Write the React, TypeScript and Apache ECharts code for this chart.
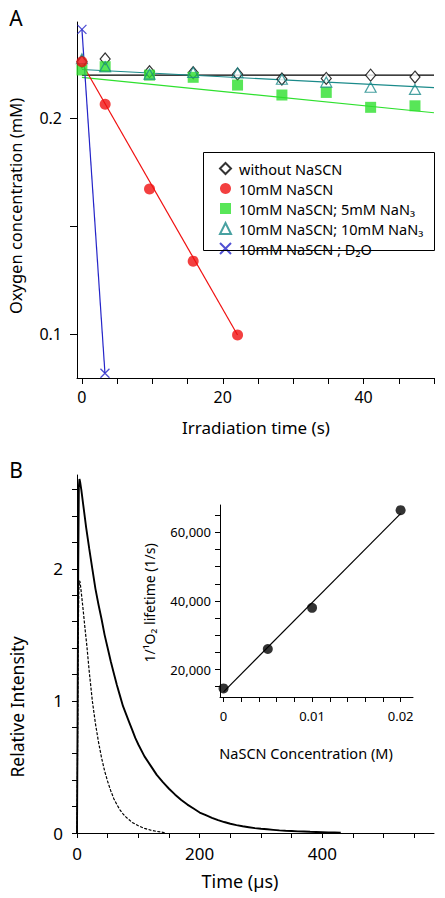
import React, { useEffect, useRef } from "react";
import * as echarts from "echarts";

// ---------- Panel A data ----------
const aTimes = [0, 3.3, 9.6, 15.8, 22.1, 28.4, 34.7, 41.0, 47.3];
const aWithout = [0.2262, 0.2275, 0.2216, 0.2211, 0.2205, 0.2182, 0.2185, 0.2200, 0.2191];
const aRedTimes = [0, 3.3, 9.6, 15.8, 22.1];
const aRed = [0.2262, 0.2065, 0.1673, 0.1339, 0.0997];
const aGreen = [0.2224, 0.2239, 0.2200, 0.2190, 0.2154, 0.2108, 0.2120, 0.2051, 0.2058];
const aTeal = [0.2276, 0.2239, 0.2205, 0.2213, 0.2211, 0.2181, 0.2168, 0.2144, 0.2134];
const aBlueTimes = [0, 3.27];
const aBlue = [0.2412, 0.0820];
// fitted lines (endpoints)
const fitBlack = [[0, 0.2200], [50, 0.2200]];
const fitTeal = [[0, 0.2226], [50, 0.2142]];
const fitGreen = [[0, 0.2190], [50, 0.2026]];
const fitRed = [[0, 0.2255], [22.1, 0.0997]];
const fitBlue = [[0, 0.2412], [3.27, 0.0820]];
const aNames = [
  "without NaSCN",
  "10mM NaSCN",
  "10mM NaSCN; 5mM NaN\u2083",
  "10mM NaSCN; 10mM NaN\u2083",
  "10mM NaSCN ; D\u2082O",
];
const aXTicks = [0, 5, 10, 15, 20, 25, 30, 35, 40, 45, 50];
const aXLabels = [0, 20, 40];
const aYTicks = [0.1, 0.15, 0.2];
const aYLabels = [0.1, 0.2];

// ---------- Panel B data ----------
const bTimeSolid = [0, 1, 2, 3, 4, 5, 7, 10, 15, 20, 25, 30, 35, 40, 45, 50, 55, 60, 65, 70, 75, 80, 85, 90, 95, 100,
  110, 120, 130, 140, 150, 160, 170, 180, 190, 200, 210, 220, 230, 240, 250, 260, 270, 280, 290, 300,
  310, 320, 330, 340, 350, 360, 370, 380, 390, 400, 410, 420, 430];
const bIntSolid = [0, 0.9, 2.0, 2.62, 2.68, 2.66, 2.6, 2.49, 2.31, 2.15, 2.0, 1.85, 1.73, 1.62, 1.5, 1.4, 1.3, 1.21, 1.12, 1.04, 0.96, 0.9, 0.84, 0.78, 0.72, 0.67,
  0.58, 0.51, 0.44, 0.385, 0.335, 0.29, 0.25, 0.215, 0.185, 0.155, 0.135, 0.115, 0.097, 0.083, 0.07, 0.06, 0.051, 0.044, 0.037, 0.032,
  0.028, 0.024, 0.02, 0.017, 0.015, 0.012, 0.011, 0.009, 0.008, 0.007, 0.005, 0.004, 0.003];
const bTimeDash = [0, 1, 2, 3, 4, 5, 7, 10, 13, 16, 20, 25, 30, 35, 40, 45, 50, 55, 60, 65, 70, 75, 80, 85, 90, 100, 110, 120, 130, 140, 145];
const bIntDash = [0, 0.7, 1.5, 1.85, 1.91, 1.9, 1.82, 1.69, 1.55, 1.42, 1.22, 1.0, 0.83, 0.69, 0.57, 0.47, 0.39, 0.32, 0.26, 0.215, 0.175, 0.145, 0.12, 0.1, 0.08, 0.055, 0.035, 0.022, 0.012, 0.005, 0];
const bXTicks = [0, 50, 100, 150, 200, 250, 300, 350, 400, 450, 500, 550];
const bXLabels = [0, 200, 400];
const bYTicks = [0, 0.2, 0.4, 0.6, 0.8, 1, 1.2, 1.4, 1.6, 1.8, 2, 2.2, 2.4, 2.6];
const bYLabels = [0, 1, 2];

// ---------- Inset data ----------
const insetConc = [0, 0.005, 0.01, 0.02];
const insetRate = [14500, 26000, 38000, 66500];
const insetFit = [[0, 13500], [0.02, 65500]];
const insetXTicks = [0, 0.002, 0.004, 0.006, 0.008, 0.01, 0.012, 0.014, 0.016, 0.018, 0.02];
const insetXLabels = [0, 0.01, 0.02];
const insetYTicks = [15000, 20000, 25000, 30000, 35000, 40000, 45000, 50000, 55000, 60000, 65000];
const insetYLabels = [20000, 40000, 60000];

const FONT = "Noto Sans";
const zip = (xs: number[], ys: number[]) => xs.map((x, i) => [x, ys[i]]);

function axisBase(extra: any) {
  return {
    axisLine: { show: true, onZero: false, lineStyle: { color: "#000", width: 1 } },
    splitLine: { show: false },
    ...extra,
  };
}

export default function App() {
  const ref = useRef<HTMLDivElement>(null);
  useEffect(() => {
    if (!ref.current) return;
    const chart = echarts.init(ref.current, null, { renderer: "svg" });
    const teal = "#1a8a8a";
    const green = "#2ee02e";
    const red = "#f01010";
    const blue = "#2424c8";
    const txt = (text: string, x: number, y: number, size: number, rot = 0) => ({
      type: "text",
      x,
      y,
      rotation: rot,
      style: { text, fontSize: size, fontFamily: FONT, fill: "#000", align: "center", verticalAlign: "middle" },
      z: 100,
    });
    chart.setOption({
      animation: false,
      backgroundColor: "#fff",
      grid: [
        { left: 77, right: 11, top: 22, bottom: 520 },
        { left: 77, right: 11, top: 475, bottom: 65 },
        { left: 220, right: 32, top: 505, bottom: 201 },
      ],
      xAxis: [
        axisBase({
          gridIndex: 0, type: "value", min: -0.7, max: 50,
          axisTick: { show: true, length: 6, lineStyle: { color: "#000" }, customValues: aXTicks },
          axisLabel: { color: "#000", fontSize: 16, fontFamily: FONT, margin: 11, customValues: aXLabels },
        }),
        axisBase({
          gridIndex: 1, type: "value", min: 0, max: 582,
          axisTick: { show: true, length: 5, lineStyle: { color: "#000" }, customValues: bXTicks },
          axisLabel: { color: "#000", fontSize: 17, fontFamily: FONT, margin: 12, customValues: bXLabels },
        }),
        axisBase({
          gridIndex: 2, type: "value", min: -0.0004, max: 0.0214,
          axisTick: { show: true, length: 5, lineStyle: { color: "#000" }, customValues: insetXTicks },
          axisLabel: { color: "#000", fontSize: 13, fontFamily: FONT, margin: 12, customValues: insetXLabels },
        }),
      ],
      yAxis: [
        axisBase({
          gridIndex: 0, type: "value", min: 0.0798, max: 0.2446,
          axisTick: { show: true, length: 7, lineStyle: { color: "#000" }, customValues: aYTicks },
          axisLabel: { color: "#000", fontSize: 16, fontFamily: FONT, margin: 15, customValues: aYLabels },
        }),
        axisBase({
          gridIndex: 1, type: "value", min: 0, max: 2.71,
          axisTick: { show: true, length: 5, lineStyle: { color: "#000" }, customValues: bYTicks },
          axisLabel: { color: "#000", fontSize: 17, fontFamily: FONT, margin: 14, customValues: bYLabels },
        }),
        axisBase({
          gridIndex: 2, type: "value", min: 12000, max: 68000,
          axisTick: { show: true, length: 5, lineStyle: { color: "#000" }, customValues: insetYTicks },
          axisLabel: {
            color: "#000", fontSize: 13, fontFamily: FONT, margin: 9, customValues: insetYLabels,
            formatter: (v: number) => v.toLocaleString("en-US"),
          },
        }),
      ],
      legend: {
        data: aNames,
        orient: "vertical",
        left: 214,
        top: 156,
        itemWidth: 11,
        itemHeight: 11,
        itemGap: 5,
        selectedMode: false,
        textStyle: { fontSize: 14.5, fontFamily: FONT, color: "#000", lineHeight: 14, padding: [0, 0, 0, 3] },
      },
      graphic: [
        { type: "rect", shape: { x: 203.5, y: 152.5, width: 231, height: 98 }, style: { fill: "none", stroke: "#000", lineWidth: 1 }, z: 100 },
        txt("A", 16, 18, 21),
        txt("B", 16, 470, 21),
        txt("Oxygen concentration (mM)", 15, 206, 16.5, Math.PI / 2),
        txt("Irradiation time (s)", 256, 427, 17),
        txt("Relative Intensity", 17, 707, 17.5, Math.PI / 2),
        txt("Time (\u00b5s)", 240, 881, 18),
        txt("1/\u00b9O\u2082 lifetime (1/s)", 149, 603, 14, Math.PI / 2),
        txt("NaSCN Concentration (M)", 306, 753, 14.5),
      ],
      series: [
        // fit lines panel A
        { type: "line", xAxisIndex: 0, yAxisIndex: 0, data: fitBlack, showSymbol: false, lineStyle: { color: "#000", width: 1.2 }, z: 2 },
        { type: "line", xAxisIndex: 0, yAxisIndex: 0, data: fitGreen, showSymbol: false, lineStyle: { color: green, width: 1.2 }, z: 2 },
        { type: "line", xAxisIndex: 0, yAxisIndex: 0, data: fitTeal, showSymbol: false, lineStyle: { color: teal, width: 1.2 }, z: 2 },
        { type: "line", xAxisIndex: 0, yAxisIndex: 0, data: fitRed, showSymbol: false, lineStyle: { color: red, width: 1.2 }, z: 2 },
        { type: "line", xAxisIndex: 0, yAxisIndex: 0, data: fitBlue, showSymbol: false, lineStyle: { color: blue, width: 1.2 }, z: 2 },
        // scatter panel A
        {
          name: aNames[0], type: "scatter", xAxisIndex: 0, yAxisIndex: 0, data: zip(aTimes, aWithout),
          symbol: "diamond", symbolSize: [10, 12], itemStyle: { color: "#fff", borderColor: "#000", borderWidth: 1.2 }, z: 3,
        },
        {
          name: aNames[2], type: "scatter", xAxisIndex: 0, yAxisIndex: 0, data: zip(aTimes, aGreen),
          symbol: "rect", symbolSize: 11, itemStyle: { color: green }, z: 3,
        },
        {
          name: aNames[3], type: "scatter", xAxisIndex: 0, yAxisIndex: 0, data: zip(aTimes, aTeal),
          symbol: "triangle", symbolSize: [11, 10], itemStyle: { color: "rgba(255,255,255,0)", borderColor: teal, borderWidth: 1.2 }, z: 4,
        },
        {
          name: aNames[1], type: "scatter", xAxisIndex: 0, yAxisIndex: 0, data: zip(aRedTimes, aRed),
          symbol: "circle", symbolSize: 11, itemStyle: { color: red }, z: 5,
        },
        {
          name: aNames[4], type: "scatter", xAxisIndex: 0, yAxisIndex: 0, data: zip(aBlueTimes, aBlue),
          symbol: "path://M0,0L10,10M10,0L0,10", symbolSize: 9,
          itemStyle: { color: "rgba(0,0,0,0)", borderColor: blue, borderWidth: 1.3 }, z: 6,
        },
        // panel B decays
        {
          type: "line", xAxisIndex: 1, yAxisIndex: 1, data: zip(bTimeSolid, bIntSolid), showSymbol: false,
          lineStyle: { color: "#000", width: 1.9 }, z: 3,
        },
        {
          type: "line", xAxisIndex: 1, yAxisIndex: 1, data: zip(bTimeDash, bIntDash), showSymbol: false,
          lineStyle: { color: "#000", width: 1.2, type: [3, 1.5] }, z: 3,
        },
        // inset
        { type: "line", xAxisIndex: 2, yAxisIndex: 2, data: insetFit, showSymbol: false, lineStyle: { color: "#000", width: 1.2 }, z: 3 },
        {
          type: "scatter", xAxisIndex: 2, yAxisIndex: 2, data: zip(insetConc, insetRate),
          symbol: "circle", symbolSize: 10, itemStyle: { color: "#000" }, z: 4,
        },
      ],
    });
    return () => chart.dispose();
  }, []);
  return <div ref={ref} style={{ position: "absolute", left: 0, top: 0, width: 445, height: 898 }} />;
}
